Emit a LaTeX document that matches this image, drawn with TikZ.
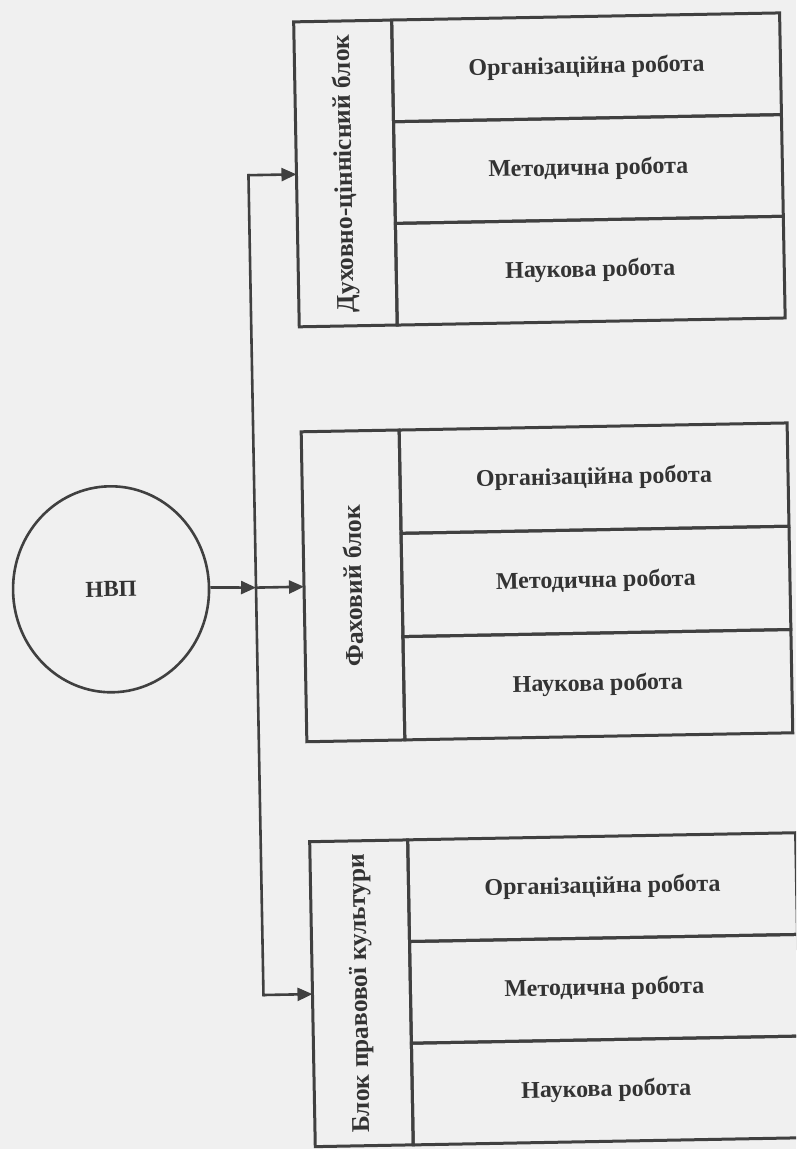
\documentclass[tikz,border=0pt]{standalone}
\usepackage{fontspec}
\setmainfont{Liberation Serif}
\usepackage{graphicx}
\usetikzlibrary{arrows.meta,shapes.geometric}
\definecolor{bgc}{HTML}{F0F0F0}
\definecolor{linec}{HTML}{404040}
\definecolor{textc}{HTML}{333333}
\tikzset{
  cellbox/.style={draw=linec, line width=3pt, rectangle, inner sep=0pt, outer sep=0pt,
    text=textc, font=\bfseries\fontsize{24}{26}\selectfont, align=center},
  labelcell/.style={cellbox, minimum width=98pt, font=\bfseries\fontsize{25.5}{28}\selectfont},
  rowcell/.style={cellbox, minimum width=388pt},
  conn/.style={draw=linec, line width=2.6pt},
  arr/.style={conn, -{Triangle[length=15pt,width=13pt]}},
  hub/.style={draw=linec, line width=2.6pt, ellipse, minimum width=196pt, minimum height=206pt,
    text=textc, font=\bfseries\fontsize{23}{25}\selectfont}
}
\begin{document}
\begin{tikzpicture}[x=1pt,y=-1pt]
\fill[bgc] (0,0) rectangle (796,1149);
\useasboundingbox (0,0) rectangle (796,1149);
\clip (0,0) rectangle (796,1149);
\begin{scope}[rotate around={1.05:(400,585)}, transform shape]
  % hub
  \node[hub] (nvp) at (111,584) {НВП};
  % block 1
  \node[labelcell, minimum height=305pt] (b1) at (353,172.5) {\rotatebox{90}{Духовно-ціннісний блок}};
  \node[rowcell, minimum height=101.7pt] (b1r1) at (596,70.8) {Організаційна робота};
  \node[rowcell, minimum height=101.7pt] (b1r2) at (596,172.5) {Методична робота};
  \node[rowcell, minimum height=101.7pt] (b1r3) at (596,274.2) {Наукова робота};
  % block 2
  \node[labelcell, minimum height=310pt] (b2) at (353,585) {\rotatebox{90}{Фаховий блок}};
  \node[rowcell, minimum height=103.3pt] (b2r1) at (596,481.7) {Організаційна робота};
  \node[rowcell, minimum height=103.3pt] (b2r2) at (596,585) {Методична робота};
  \node[rowcell, minimum height=103.3pt] (b2r3) at (596,688.3) {Наукова робота};
  % block 3
  \node[labelcell, minimum height=305pt] (b3) at (354,992.5) {\rotatebox{90}{Блок правової культури}};
  \node[rowcell, minimum height=101.7pt] (b3r1) at (597,890.8) {Організаційна робота};
  \node[rowcell, minimum height=101.7pt] (b3r2) at (597,992.5) {Методична робота};
  \node[rowcell, minimum height=101.7pt] (b3r3) at (597,1094.2) {Наукова робота};
  % trunk
  \coordinate (t1) at (256,172.5);
  \coordinate (t2) at (256,585);
  \coordinate (t3) at (256,992.5);
  \draw[conn, line cap=rect] (t1) -- (t3);
  \draw[arr] (nvp.east) -- (t2);
  \draw[arr] (t2) -- (b2.west);
  \draw[arr] (t1) -- (b1.west);
  \draw[arr] (t3) -- (b3.west);
\end{scope}
\end{tikzpicture}
\end{document}
